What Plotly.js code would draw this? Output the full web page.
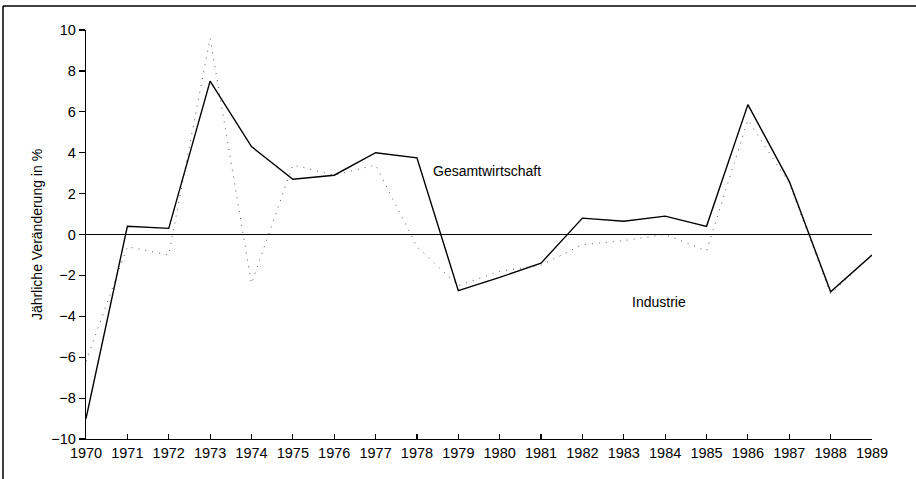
<!DOCTYPE html>
<html>
<head>
<meta charset="utf-8">
<script src="https://cdn.plot.ly/plotly-3.0.1.min.js"></script>
<style>
  html, body { margin: 0; padding: 0; background: #fff; }
  #chart { width: 916px; height: 479px; }
</style>
</head>
<body>
<div id="chart"></div>
<script>
// Years (x categories / tick labels)
const years = [1970, 1971, 1972, 1973, 1974, 1975, 1976, 1977, 1978, 1979,
               1980, 1981, 1982, 1983, 1984, 1985, 1986, 1987, 1988, 1989];
const yearLabels = years.map(String);

// Gesamtwirtschaft (solid line), % change per year
const gesamtwirtschaft = [-9.0, 0.4, 0.3, 7.5, 4.3, 2.7, 2.9, 4.0, 3.75, -2.75,
                          -2.1, -1.4, 0.8, 0.65, 0.9, 0.4, 6.35, 2.6, -2.8, -1.0];

// Industrie (dotted line), % change per year
const industrie = [-6.2, -0.6, -1.0, 9.6, -2.4, 3.4, 2.9, 3.4, -0.6, -2.5,
                   -1.8, -1.5, -0.5, -0.3, 0.0, -0.8, 5.6, 2.5, -2.9, -1.0];

// Y tick values
const yTicks = [-10, -8, -6, -4, -2, 0, 2, 4, 6, 8, 10];

const FONT = "Liberation Sans, Arial, sans-serif";

const traces = [
  {
    x: years, y: industrie, type: "scatter", mode: "lines", name: "Industrie",
    line: { color: "#555", width: 1, dash: "1px,6px" },
    cliponaxis: false, hoverinfo: "skip"
  },
  {
    x: years, y: gesamtwirtschaft, type: "scatter", mode: "lines", name: "Gesamtwirtschaft",
    line: { color: "#000", width: 1.4 },
    cliponaxis: false, hoverinfo: "skip"
  }
];

const layout = {
  width: 916, height: 479,
  margin: { l: 86, r: 44, t: 30, b: 40 },
  paper_bgcolor: "#fff", plot_bgcolor: "#fff",
  showlegend: false,
  font: { family: FONT, color: "#000", size: 13 },
  xaxis: {
    range: [1970, 1989],
    tickvals: years, ticktext: yearLabels,
    ticks: "inside", ticklen: 5, tickwidth: 1.2, tickcolor: "#000",
    showline: true, linecolor: "#000", linewidth: 1.4,
    showgrid: false, zeroline: false,
    tickfont: { family: FONT, size: 14.5, color: "#000" },
    tickangle: 0
  },
  yaxis: {
    range: [-10, 10],
    tickvals: yTicks,
    ticks: "outside", ticklen: 6, tickwidth: 1.2, tickcolor: "#000",
    showline: true, linecolor: "#000", linewidth: 1.2,
    showgrid: false,
    zeroline: true, zerolinecolor: "#000", zerolinewidth: 1,
    tickfont: { family: FONT, size: 14.5, color: "#000" },
    title: { text: "Jährliche Veränderung in %", font: { family: FONT, size: 14, color: "#000" }, standoff: 5 }
  },
  annotations: [
    { x: 1978.34, y: 3.1, xref: "x", yref: "y", text: "Gesamtwirtschaft",
      showarrow: false, xanchor: "left", yanchor: "middle",
      font: { family: FONT, size: 14, color: "#000" } },
    { x: 1983.15, y: -3.3, xref: "x", yref: "y", text: "Industrie",
      showarrow: false, xanchor: "left", yanchor: "middle",
      font: { family: FONT, size: 14, color: "#000" } }
  ],
  shapes: [
    { type: "line", xref: "paper", yref: "paper", x0: -0.1056, x1: 1.06, y0: 1.0587, y1: 1.0587,
      line: { color: "#000", width: 1.5 } },
    { type: "line", xref: "paper", yref: "paper", x0: -0.1056, x1: -0.1056, y0: 1.0587, y1: -0.1,
      line: { color: "#000", width: 1.5 } }
  ]
};

Plotly.newPlot("chart", traces, layout, { staticPlot: true, displayModeBar: false });
</script>
</body>
</html>
